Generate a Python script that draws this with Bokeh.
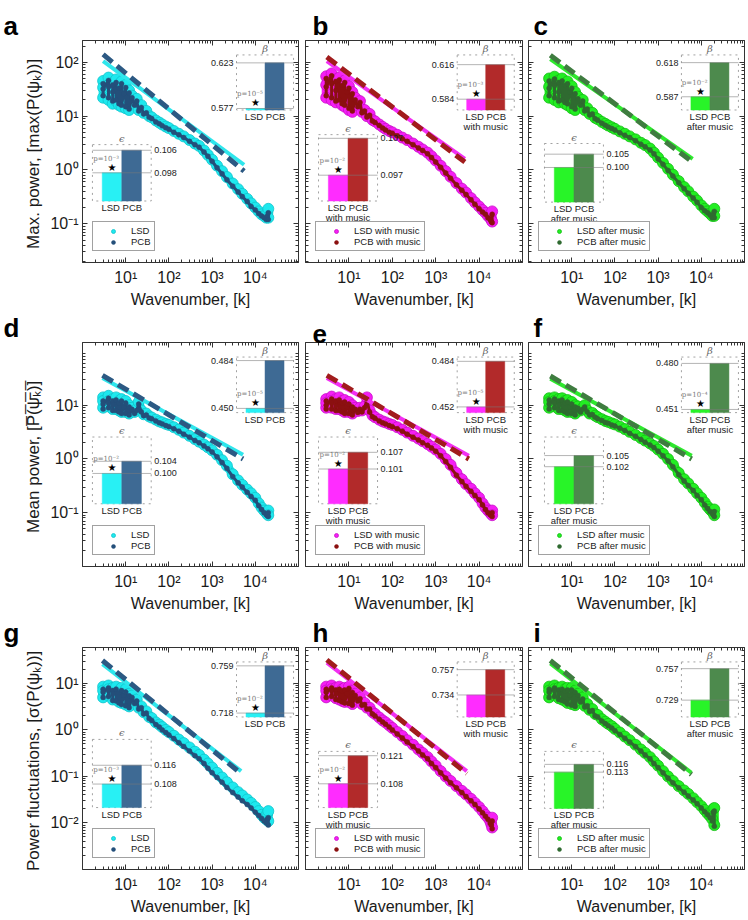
from bokeh.plotting import figure
from bokeh.layouts import row, column
from bokeh.models import (Range1d, LinearScale, FixedTicker, CustomJSTickFormatter,
                          LogAxis, Legend, LegendItem)
from bokeh.embed import file_html
from bokeh.resources import INLINE
from bokeh.core.properties import value

# ---------------- data ----------------
K = [3, 3, 3, 4, 4, 4, 5, 5, 5,
     6, 6, 7, 7, 8, 8, 9, 10, 10, 12, 12,
     14, 16, 18, 20, 23, 26, 30, 35, 40, 50, 60, 70, 85, 100,
     130, 170, 220, 300, 400, 500, 650, 800, 1000,
     1300, 1700, 2200, 3000, 4000, 5000, 6500, 8000, 10000,
     12000, 14000, 16000, 18000, 19000, 20000, 20000]

A_LSD = [45, 22, 34, 52, 20, 38, 42, 17, 30,
         48, 19, 36, 16, 44, 15, 28, 38, 14, 30, 13,
         24, 17, 21, 13, 16, 11.5, 12.5, 10, 9.5, 8.3, 7.6, 7.0, 6.4, 6.0,
         5.3, 4.7, 4.2, 3.6, 3.1, 2.8, 2.3, 1.9, 1.55,
         1.2, 0.95, 0.74, 0.56, 0.44, 0.36, 0.29, 0.24, 0.2,
         0.17, 0.15, 0.14, 0.13, 0.16, 0.19, 0.13]
A_PCB = [40, 24, 32, 46, 22, 35, 38, 19, 28,
         42, 20, 33, 17, 40, 16, 26, 34, 15, 27, 13.5,
         22, 16, 19, 12.5, 14.5, 11, 11.5, 9.5, 9, 7.8, 7.2, 6.6, 6.1, 5.7,
         5.0, 4.5, 4.0, 3.4, 2.95, 2.65, 2.15, 1.8, 1.45,
         1.1, 0.85, 0.66, 0.5, 0.39, 0.32, 0.26, 0.21, 0.18,
         0.155, 0.14, 0.13, 0.12, 0.14, 0.16, 0.12]
B_LSD = [55, 22, 38, 62, 20, 42, 48, 18, 32,
         52, 19, 40, 16, 46, 15, 30, 36, 13, 28, 12,
         22, 16, 19, 12, 13, 10, 11, 8.5, 8, 7, 6.3, 5.8, 5.3, 5.0,
         4.5, 4.0, 3.6, 3.1, 2.7, 2.4, 2.1, 1.8, 1.5,
         1.2, 0.95, 0.75, 0.57, 0.45, 0.38, 0.3, 0.25, 0.21,
         0.18, 0.16, 0.14, 0.13, 0.12, 0.17, 0.11]
B_PCB = [50, 24, 35, 56, 22, 40, 44, 19, 30,
         47, 20, 37, 17, 42, 16, 28, 33, 14, 26, 12.5,
         20, 15, 18, 11.5, 12.5, 9.6, 10.4, 8.1, 7.6, 6.7, 6.0, 5.5, 5.0, 4.8,
         4.3, 3.8, 3.4, 2.95, 2.55, 2.3, 2.0, 1.7, 1.4,
         1.12, 0.88, 0.7, 0.53, 0.42, 0.35, 0.28, 0.23, 0.19,
         0.165, 0.15, 0.13, 0.12, 0.11, 0.15, 0.105]
C_LSD = [50, 22, 35, 54, 20, 40, 46, 18, 30,
         50, 19, 40, 17, 44, 16, 30, 36, 14, 28, 13,
         23, 17, 20, 13, 14, 11, 11.5, 9.3, 8.8, 7.8, 7.2, 6.7, 6.2, 5.8,
         5.2, 4.7, 4.2, 3.7, 3.2, 2.9, 2.5, 2.1, 1.7,
         1.35, 1.05, 0.82, 0.62, 0.48, 0.4, 0.32, 0.27, 0.22,
         0.19, 0.17, 0.155, 0.14, 0.17, 0.19, 0.14]
C_PCB = [45, 24, 33, 49, 22, 37, 42, 19, 28,
         45, 20, 37, 18, 40, 17, 28, 33, 15, 26, 13.5,
         21, 16, 19, 12.5, 13.5, 10.5, 11, 8.9, 8.4, 7.4, 6.8, 6.3, 5.9, 5.5,
         4.9, 4.4, 4.0, 3.5, 3.0, 2.7, 2.35, 2.0, 1.6,
         1.27, 0.98, 0.77, 0.58, 0.45, 0.37, 0.3, 0.25, 0.2,
         0.175, 0.16, 0.145, 0.13, 0.15, 0.17, 0.13]
D_LSD = [14, 9, 12, 15, 9.5, 12, 13, 8.5, 11,
         14, 8.5, 12, 8, 13, 7.5, 10, 12, 7.5, 10, 7,
         9, 7.5, 8.5, 11.5, 8, 6.8, 7, 6.2, 5.9, 5.4, 5.0, 4.8, 4.5, 4.3,
         3.9, 3.5, 3.1, 2.7, 2.35, 2.1, 1.85, 1.65, 1.45,
         1.2, 0.95, 0.75, 0.52, 0.4, 0.33, 0.27, 0.23, 0.19,
         0.15, 0.125, 0.11, 0.1, 0.095, 0.11, 0.09]
D_PCB = [12, 8.5, 10.5, 13.5, 9, 11, 12, 8, 10,
         12.5, 8, 11, 7.5, 12, 7, 9.3, 11, 7, 9.3, 6.6,
         8.4, 7, 8, 10.5, 7.5, 6.4, 6.6, 5.8, 5.6, 5.1, 4.7, 4.5, 4.2, 4.0,
         3.65, 3.3, 2.9, 2.55, 2.2, 2.0, 1.75, 1.55, 1.35,
         1.1, 0.86, 0.67, 0.47, 0.36, 0.3, 0.24, 0.2, 0.17,
         0.135, 0.115, 0.1, 0.092, 0.088, 0.1, 0.085]
E_LSD = [13, 9, 11, 14.5, 9, 12, 13, 8.5, 10.5,
         14, 8.5, 12, 8, 12.5, 7.5, 10, 11.5, 7.5, 10, 7,
         9, 7.8, 9, 8, 9.5, 14, 8, 6.5, 6, 5.4, 5.0, 4.8, 4.5, 4.3,
         3.9, 3.5, 3.1, 2.7, 2.4, 2.15, 1.9, 1.7, 1.5,
         1.25, 1.0, 0.78, 0.55, 0.42, 0.34, 0.28, 0.23, 0.19,
         0.15, 0.125, 0.11, 0.1, 0.1, 0.11, 0.09]
E_PCB = [12, 8.5, 10, 13, 8.5, 11, 12, 8, 9.8,
         12.5, 8, 11, 7.5, 11.5, 7, 9.3, 10.5, 7, 9.3, 6.6,
         8.4, 7.3, 8.4, 7.5, 9, 12.5, 7.5, 6.1, 5.7, 5.1, 4.7, 4.5, 4.2, 4.0,
         3.65, 3.3, 2.9, 2.55, 2.25, 2.0, 1.8, 1.6, 1.4,
         1.15, 0.9, 0.7, 0.5, 0.38, 0.31, 0.25, 0.21, 0.175,
         0.14, 0.115, 0.1, 0.092, 0.09, 0.1, 0.085]
F_LSD = [13.5, 9, 11.5, 14, 9.5, 12, 13, 8.5, 11,
         13.5, 8.5, 12, 8, 12.5, 7.5, 10, 11.5, 7.5, 10, 7,
         9.5, 8, 9, 10, 8, 7, 7.2, 6.4, 6, 5.5, 5.1, 4.9, 4.6, 4.4,
         4.0, 3.6, 3.2, 2.8, 2.45, 2.2, 1.95, 1.75, 1.5,
         1.25, 1.0, 0.78, 0.55, 0.42, 0.35, 0.28, 0.23, 0.19,
         0.155, 0.13, 0.115, 0.105, 0.1, 0.115, 0.09]
F_PCB = [12.5, 8.5, 10.5, 13, 9, 11, 12, 8, 10,
         12.5, 8, 11, 7.5, 11.5, 7, 9.3, 10.5, 7, 9.3, 6.6,
         8.8, 7.4, 8.4, 9.3, 7.5, 6.6, 6.7, 6, 5.6, 5.2, 4.8, 4.6, 4.3, 4.1,
         3.75, 3.4, 3.0, 2.65, 2.3, 2.05, 1.82, 1.63, 1.4,
         1.15, 0.92, 0.72, 0.51, 0.39, 0.32, 0.26, 0.21, 0.175,
         0.14, 0.12, 0.105, 0.097, 0.092, 0.105, 0.085]
G_LSD = [8.5, 5, 7, 9, 5.5, 7.5, 8, 4.5, 6.5,
         8.5, 4.5, 7, 4, 8, 3.8, 6, 7.5, 3.5, 6, 3.2,
         5.5, 4, 4.5, 3, 3.2, 2.4, 2.5, 1.9, 1.8, 1.45, 1.3, 1.15, 1.0, 0.9,
         0.75, 0.62, 0.52, 0.42, 0.34, 0.29, 0.23, 0.19, 0.155,
         0.12, 0.095, 0.075, 0.058, 0.046, 0.039, 0.032, 0.027, 0.022,
         0.018, 0.015, 0.013, 0.012, 0.016, 0.018, 0.011]
G_PCB = [7.5, 5, 6.5, 8, 5.2, 7, 7, 4.3, 6,
         7.5, 4.2, 6.3, 3.8, 7, 3.5, 5.5, 6.5, 3.3, 5.4, 3,
         5, 3.7, 4.2, 2.8, 3, 2.2, 2.3, 1.75, 1.6, 1.3, 1.15, 1.0, 0.88, 0.78,
         0.65, 0.53, 0.44, 0.35, 0.28, 0.24, 0.19, 0.15, 0.12,
         0.095, 0.075, 0.058, 0.045, 0.036, 0.03, 0.025, 0.021, 0.017,
         0.0145, 0.0125, 0.011, 0.01, 0.012, 0.013, 0.009]
H_LSD = [8.5, 5, 7, 9, 5.5, 7.5, 8, 4.8, 6.5,
         8.5, 4.5, 7.5, 4.2, 8, 4, 6.5, 8.5, 4, 7, 3.6,
         6, 4.5, 5, 3.6, 3.8, 3, 3, 2.4, 2.2, 1.85, 1.6, 1.45, 1.25, 1.1,
         0.9, 0.74, 0.6, 0.48, 0.38, 0.32, 0.26, 0.21, 0.17,
         0.13, 0.1, 0.08, 0.062, 0.049, 0.041, 0.033, 0.027, 0.022,
         0.018, 0.015, 0.013, 0.011, 0.0095, 0.013, 0.008]
H_PCB = [7.5, 5, 6.5, 8, 5.2, 7, 7.2, 4.5, 6,
         7.5, 4.3, 6.8, 4, 7.2, 3.8, 6, 7.8, 3.7, 6.4, 3.4,
         5.5, 4.2, 4.7, 3.4, 3.5, 2.8, 2.8, 2.2, 2.0, 1.7, 1.48, 1.33, 1.15, 1.0,
         0.82, 0.67, 0.55, 0.44, 0.35, 0.29, 0.24, 0.19, 0.155,
         0.12, 0.092, 0.073, 0.057, 0.045, 0.037, 0.03, 0.025, 0.02,
         0.0165, 0.014, 0.012, 0.01, 0.009, 0.011, 0.0075]
I_LSD = [8.5, 5, 7, 9, 5.5, 7.5, 8, 4.8, 6.5,
         8.5, 4.5, 7.5, 4.2, 8, 3.8, 6, 8, 3.6, 7, 3.4,
         6, 4.3, 5, 3.3, 3.6, 2.7, 2.8, 2.2, 2.1, 1.7, 1.5, 1.35, 1.2, 1.05,
         0.88, 0.72, 0.6, 0.48, 0.38, 0.32, 0.26, 0.21, 0.17,
         0.13, 0.1, 0.08, 0.062, 0.05, 0.042, 0.034, 0.028, 0.023,
         0.019, 0.016, 0.014, 0.012, 0.02, 0.021, 0.009]
I_PCB = [7.5, 5, 6.5, 8, 5.2, 7, 7.2, 4.5, 6,
         7.5, 4.3, 6.8, 4, 7.2, 3.6, 5.5, 7.2, 3.4, 6.4, 3.2,
         5.5, 4, 4.6, 3.1, 3.3, 2.5, 2.6, 2.0, 1.9, 1.55, 1.37, 1.23, 1.1, 0.96,
         0.8, 0.66, 0.55, 0.44, 0.35, 0.29, 0.24, 0.19, 0.155,
         0.12, 0.092, 0.073, 0.057, 0.046, 0.038, 0.031, 0.026, 0.021,
         0.0175, 0.015, 0.013, 0.011, 0.017, 0.018, 0.0085]

LSD_SERIES = [A_LSD, B_LSD, C_LSD, D_LSD, E_LSD, F_LSD, G_LSD, H_LSD, I_LSD]
PCB_SERIES = [A_PCB, B_PCB, C_PCB, D_PCB, E_PCB, F_PCB, G_PCB, H_PCB, I_PCB]

# power-law fit lines (end points)
FIT_K0 = [3, 3.1, 3.2, 2.9, 3.1, 3.2, 2.9, 3.1, 3.2]
FIT_K1 = [5500, 4700, 6300, 5200, 5800, 6000, 4700, 5200, 5900]
FIT_LSD0 = [105, 105, 115, 32, 32, 31, 26, 28, 27]
FIT_LSD1 = [1.25, 1.6, 1.6, 1.2, 1.15, 1.15, 0.13, 0.13, 0.12]
FIT_PCB0 = [140, 125, 135, 36, 36, 35, 31, 32, 31]
FIT_PCB1 = [0.95, 1.4, 1.4, 1.0, 1.0, 1.0, 0.115, 0.115, 0.11]

# inset values
BETA_LSD = [0.577, 0.584, 0.587, 0.450, 0.452, 0.451, 0.718, 0.734, 0.729]
BETA_PCB = [0.623, 0.616, 0.618, 0.484, 0.484, 0.480, 0.759, 0.757, 0.757]
BETA_P = ["10⁻⁵", "10⁻³", "10⁻²", "10⁻⁵", "10⁻⁵", "10⁻⁴", "10⁻²", "", ""]
EPS_LSD = [0.098, 0.097, 0.100, 0.100, 0.101, 0.102, 0.108, 0.108, 0.113]
EPS_PCB = [0.106, 0.107, 0.105, 0.104, 0.107, 0.105, 0.116, 0.121, 0.116]
EPS_P = ["10⁻³", "10⁻²", "", "10⁻²", "10⁻²", "", "10⁻³", "10⁻²", ""]

# inset axis limits
BETA_LIM = [(0.5755, 0.631), (0.574, 0.625), (0.575, 0.625),
            (0.447, 0.4865), (0.448, 0.487), (0.449, 0.484),
            (0.7146, 0.7624), (0.714, 0.764), (0.714, 0.763)]
EPS_LIM = [(0.088, 0.108), (0.090, 0.108), (0.087, 0.109),
           (0.090, 0.112), (0.0885, 0.1125), (0.092, 0.110),
           (0.098, 0.127), (0.097, 0.123), (0.099, 0.121)]

LEGEND_NAMES = [("LSD", "PCB"), ("LSD with music", "PCB with music"),
                ("LSD after music", "PCB after music")]
BAR_NAMES = "LSD PCB"
SUB_LINE = ["", "with music", "after music"]
Y_LABELS = ["Max. power,  [max(P(ψₖ))]",
            "Mean power,  [P\u0305(\u0305ψ\u0305ₖ\u0305)\u0305]",
            "Power fluctuations,  [σ(P(ψₖ))]"]
X_LABEL = "Wavenumber, [k]"
LETTERS = "abcdefghi"

X_LIM = (1, 1e5)
Y_LIMS = [(0.0191, 254), (0.01, 147), (0.001, 59)]
X_TICKS = [10, 100, 1000, 10000]
Y_TICKS = [[0.1, 1, 10, 100], [0.1, 1, 10], [0.01, 0.1, 1, 10]]

# ---------------- layout / style ----------------
WIDTHS = [301, 224, 223]
HEIGHTS = [310, 304, 305]
BORDER_L = [82, 4, 3]
BORDER_R = [3, 3, 4]
BORDER_T = [40, 32, 33]
BORDER_B = [46, 47, 50]
TITLE_OFF = [-79, 7, 5]

BETA_FX = [(0.713, 0.977), (0.699, 0.962), (0.708, 0.972)]
BETA_FY = (0.687, 0.935)
EPS_FX = [(0.046, 0.318), (0.06, 0.332), (0.074, 0.347)]
EPS_FY = [(0.277, 0.531), (0.277, 0.576), (0.272, 0.536),
          (0.28, 0.578), (0.28, 0.578), (0.28, 0.578),
          (0.279, 0.586), (0.279, 0.532), (0.275, 0.532)]

LSD_FILL = ["#1ee8ee", "#f51ef5", "#22ee22"]
LSD_EDGE = ["#10c4cc", "#c810c8", "#14bc14"]
PCB_DOT = ["#244f7a", "#8b1010", "#2f6a30"]
BAR_LSD = ["#28f0f4", "#ff2cff", "#28f428"]
BAR_PCB = ["#3e6a94", "#b22a2a", "#4d8a4d"]
FIT_LSD_C = ["#2fe6ec", "#f22ff2", "#2ee82e"]
FIT_PCB_C = ["#2c5983", "#a11c1c", "#3f7c40"]

FONT = "Liberation Sans"
SERIF = "DejaVu Serif"
AXC = "#333333"

SUP = CustomJSTickFormatter(code="""
const s = {"-":"\u207b","0":"\u2070","1":"\u00b9","2":"\u00b2","3":"\u00b3","4":"\u2074",
           "5":"\u2075","6":"\u2076","7":"\u2077","8":"\u2078","9":"\u2079"};
const e = Math.round(Math.log10(tick));
return "10" + String(e).split("").map(c => s[c]).join("");
""")
BLANK = CustomJSTickFormatter(code="return '';")
MINOR = sorted(m * 10.0 ** e for e in range(-4, 6) for m in range(2, 10))


def style_axis(ax, show, standoff=4):
    ax.major_tick_in = 5
    ax.major_tick_out = 0
    ax.minor_tick_in = 3
    ax.minor_tick_out = 0
    ax.axis_line_color = AXC
    ax.major_tick_line_color = AXC
    ax.minor_tick_line_color = AXC
    ax.major_label_text_font = FONT
    ax.major_label_text_color = "#1a1a1a"
    if show:
        ax.formatter = SUP
        ax.major_label_standoff = standoff
        ax.major_label_text_font_size = "16px"
    else:
        ax.formatter = BLANK
        ax.major_label_standoff = 0
        ax.major_label_text_font_size = "1px"


def add_inset(p, tag, lo, hi, fx, fy, lsd, pcb, colors, side, sym, ptxt, sub):
    xspan = 3.0 / (fx[1] - fx[0])
    x0 = -fx[0] * xspan
    yspan = (hi - lo) / (fy[1] - fy[0])
    y0 = lo - fy[0] * yspan
    p.extra_x_ranges[tag + "x"] = Range1d(x0, x0 + xspan)
    p.extra_x_scales[tag + "x"] = LinearScale()
    p.extra_y_ranges[tag + "y"] = Range1d(y0, y0 + yspan)
    p.extra_y_scales[tag + "y"] = LinearScale()
    kw = dict(x_range_name=tag + "x", y_range_name=tag + "y")
    p.quad(left=[0], right=[3], bottom=[lo], top=[hi], fill_color="white",
           line_color="#8a8a8a", line_width=0.8, line_dash="dotted", **kw)
    p.vbar(x=[1, 2], top=[lsd, pcb], bottom=lo, width=1.0, fill_color=colors,
           line_color=colors, line_width=0.5, **kw)
    p.segment(x0=[0, 0], y0=[lsd, pcb], x1=[3, 3], y1=[lsd, pcb],
              line_color="#7a7a7a", line_width=0.7, line_alpha=0.8, **kw)
    if side == "left":
        tx, al, xo = 0, "right", -3
    else:
        tx, al, xo = 3, "left", 3
    p.text(x=[tx, tx], y=[lsd, pcb], text=[f"{lsd:.3f}", f"{pcb:.3f}"],
           text_align=al, text_baseline="middle", x_offset=xo,
           text_font=value(FONT), text_font_size="9px", text_color="#222222", **kw)
    p.text(x=[1.5], y=[hi], text=[sym], text_align="center", text_baseline="bottom",
           y_offset=-1, text_font=value(SERIF), text_font_style="italic",
           text_font_size="10px", text_color="#666666", **kw)
    p.text(x=[1.5], y=[lo], text=[BAR_NAMES], text_align="center",
           text_baseline="top", y_offset=1, text_font=value(FONT),
           text_font_size="9.5px", text_color="#222222", **kw)
    if sub:
        p.text(x=[1.5], y=[lo], text=[sub], text_align="center",
               text_baseline="top", y_offset=11, text_font=value(FONT),
               text_font_size="9.5px", text_color="#222222", **kw)
    if ptxt:
        p.text(x=[1], y=[lsd], text=["★"], text_align="center", text_baseline="bottom",
               y_offset=0, text_font=value("DejaVu Sans"), text_font_size="10px",
               text_color="#000000", **kw)
        p.text(x=[0.7], y=[lsd], text=["p=" + ptxt], text_align="center",
               text_baseline="bottom", y_offset=-10, text_font=value(SERIF),
               text_font_size="7px", text_color="#7a7a7a", **kw)


def make_panel(i):
    r, c = divmod(i, 3)
    p = figure(width=WIDTHS[c], height=HEIGHTS[r], x_axis_type="log", y_axis_type="log",
               x_range=Range1d(*X_LIM), y_range=Range1d(*Y_LIMS[r]),
               output_backend="svg", toolbar_location=None, title=LETTERS[i],
               min_border_left=BORDER_L[c], min_border_right=BORDER_R[c],
               min_border_top=BORDER_T[r], min_border_bottom=BORDER_B[r])
    p.title.text_font = FONT
    p.title.text_font_size = "26px"
    p.title.text_font_style = "bold"
    p.title.align = "left"
    p.title.offset = TITLE_OFF[c]
    p.title.standoff = 0
    p.title.text_color = "#000000"
    p.grid.visible = False
    p.outline_line_color = AXC
    p.outline_line_width = 1
    p.background_fill_color = "white"
    p.border_fill_color = "white"

    xt = FixedTicker(ticks=X_TICKS, minor_ticks=MINOR)
    yt = FixedTicker(ticks=Y_TICKS[r], minor_ticks=MINOR)
    xb = p.xaxis[0]
    xb.ticker = xt
    style_axis(xb, True, standoff=6)
    xb.axis_label = X_LABEL
    xb.axis_label_text_font = FONT
    xb.axis_label_text_font_size = "16px"
    xb.axis_label_text_font_style = "normal"
    xb.axis_label_text_color = "#1a1a1a"
    xb.axis_label_standoff = 2
    yl = p.yaxis[0]
    yl.ticker = yt
    style_axis(yl, c == 0, standoff=4)
    if c == 0:
        yl.axis_label = Y_LABELS[r]
        yl.axis_label_text_font = FONT
        yl.axis_label_text_font_size = "17px"
        yl.axis_label_text_font_style = "normal"
        yl.axis_label_text_color = "#1a1a1a"
        yl.axis_label_standoff = 4
    top = LogAxis(ticker=xt)
    style_axis(top, False)
    p.add_layout(top, "above")
    right = LogAxis(ticker=yt)
    style_axis(right, False)
    p.add_layout(right, "right")

    lsd = LSD_SERIES[i]
    pcb = PCB_SERIES[i]
    n1 = min(len(K), len(lsd))
    n2 = min(len(K), len(pcb))
    p.line(K[:n1], lsd[:n1], line_color=LSD_FILL[c], line_width=9, line_join="round",
           line_cap="round")
    r_lsd = p.scatter(K[:n1], lsd[:n1], marker="circle", size=11, fill_color=LSD_FILL[c],
                      line_color=LSD_EDGE[c], line_width=0.8)
    p.line(K[:n2], pcb[:n2], line_color=PCB_DOT[c], line_width=3, line_join="round")
    r_pcb = p.scatter(K[:n2], pcb[:n2], marker="circle", size=5, fill_color=PCB_DOT[c],
                      line_color=PCB_DOT[c], line_width=0.5)
    p.line([FIT_K0[i], FIT_K1[i]], [FIT_LSD0[i], FIT_LSD1[i]], line_color=FIT_LSD_C[c],
           line_width=4)
    p.line([FIT_K0[i], FIT_K1[i]], [FIT_PCB0[i], FIT_PCB1[i]], line_color=FIT_PCB_C[c],
           line_width=5, line_dash="12 6")

    colors = [BAR_LSD[c], BAR_PCB[c]]
    add_inset(p, "b", BETA_LIM[i][0], BETA_LIM[i][1], BETA_FX[c], BETA_FY,
              BETA_LSD[i], BETA_PCB[i], colors, "left", "β", BETA_P[i], SUB_LINE[c])
    add_inset(p, "e", EPS_LIM[i][0], EPS_LIM[i][1], EPS_FX[c], EPS_FY[i],
              EPS_LSD[i], EPS_PCB[i], colors, "right", "ϵ", EPS_P[i], SUB_LINE[c])

    leg = Legend(items=[LegendItem(label=LEGEND_NAMES[c][0], renderers=[r_lsd]),
                        LegendItem(label=LEGEND_NAMES[c][1], renderers=[r_pcb])],
                 location=(10, 11), orientation="vertical")
    leg.border_line_color = "#444444"
    leg.border_line_width = 1
    leg.background_fill_color = "white"
    leg.background_fill_alpha = 1
    leg.label_text_font = FONT
    leg.label_text_font_size = "9.5px"
    leg.label_text_color = "#1a1a1a"
    leg.padding = 3
    leg.spacing = 0
    leg.margin = 0
    leg.glyph_width = 34
    leg.glyph_height = 10
    leg.label_height = 10
    leg.label_standoff = 1
    p.add_layout(leg)
    return p


panels = [make_panel(i) for i in range(9)]
layout = column(*[row(*panels[3 * r:3 * r + 3]) for r in range(3)])
open("out.html", "w").write(file_html(layout, INLINE, title="Power spectra"))
